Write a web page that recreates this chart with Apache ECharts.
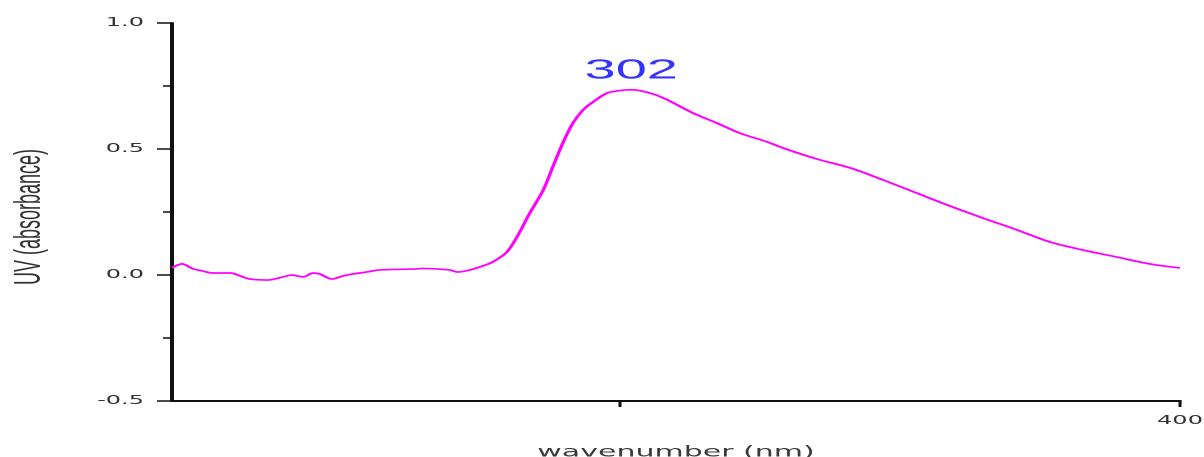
<!DOCTYPE html>
<html>
<head>
<meta charset="utf-8">
<title>UV spectrum</title>
<script src="https://cdn.jsdelivr.net/npm/echarts@6/dist/echarts.min.js"></script>
<style>
  html, body { margin: 0; padding: 0; background: #fff; overflow: hidden; }
  /* the plot is laid out at half width and stretched horizontally */
  #chart { width: 602px; height: 457px; transform: scaleX(2); transform-origin: 0 0; }
</style>
</head>
<body>
<div id="chart"></div>
<script>
// Wavelength (nm) of each sampled point
const wavelengths = [
  220, 221.8, 223.8, 225.5, 227.1, 230.4, 232.7, 233.9, 237.0, 239.8,
  241.4, 243.4, 245.2, 246.4, 248.6, 250.5, 252.3, 254.8, 257.1, 263.8,
  264.5, 269.6, 270.9, 273.2, 275.5, 277.3, 279.8, 281.6, 283.9, 286.3,
  288.0, 289.8, 291.6, 293.4, 295.2, 297.7, 300, 302, 305, 308,
  313.0, 317.3, 321.4, 326.3, 329.1, 335.2, 341.1, 347.0, 353.0, 358.9,
  364.8, 370.9, 376.8, 382.7, 388.8, 394.6, 400
];
// Absorbance at each wavelength
const absorbance = [
  0.028, 0.044, 0.024, 0.016, 0.008, 0.008, -0.008, -0.016, -0.020, -0.008,
  0.000, -0.008, 0.008, 0.004, -0.016, -0.004, 0.004, 0.012, 0.020, 0.024,
  0.026, 0.020, 0.012, 0.020, 0.036, 0.052, 0.091, 0.151, 0.246, 0.337,
  0.429, 0.524, 0.603, 0.655, 0.687, 0.722, 0.732, 0.735, 0.724, 0.700,
  0.643, 0.603, 0.563, 0.528, 0.504, 0.460, 0.425, 0.377, 0.325, 0.274,
  0.226, 0.179, 0.131, 0.099, 0.071, 0.044, 0.028
];
// Absorption maximum (nm)
const peakWavelength = 302;
// Axis ticks
const xTickValues = [300, 400];
const xLabelValues = [400];
const yTickLabels = [-0.5, 0.0, 0.5, 1.0];

const seriesData = wavelengths.map((w, i) => [w, absorbance[i]]);
const peakAbsorbance = absorbance[wavelengths.indexOf(peakWavelength)];

const chart = echarts.init(document.getElementById('chart'), null, { devicePixelRatio: 2 });
chart.setOption({
  animation: false,
  backgroundColor: '#fff',
  grid: { left: 86, right: 12, top: 23, bottom: 56, outerBoundsMode: 'none', containLabel: false },
  xAxis: {
    type: 'value',
    min: 220,
    max: 400,
    name: 'wavenumber (nm)',
    nameLocation: 'middle',
    nameGap: 44,
    nameTextStyle: { fontFamily: 'DejaVu Sans', fontSize: 15, color: '#3a3a3a' },
    axisLine: { show: true, onZero: false, lineStyle: { color: '#111', width: 2 } },
    axisTick: { show: true, customValues: xTickValues, length: 6, lineStyle: { color: '#111', width: 1.5 } },
    axisLabel: {
      customValues: xLabelValues,
      fontFamily: 'DejaVu Sans', fontSize: 12, color: '#333', margin: 14
    },
    splitLine: { show: false }
  },
  yAxis: {
    type: 'value',
    min: yTickLabels[0],
    max: yTickLabels[yTickLabels.length - 1],
    interval: 0.5,
    name: 'UV (absorbance)',
    nameLocation: 'middle',
    nameGap: 62,
    nameTextStyle: { fontFamily: 'Liberation Sans, Arial, sans-serif', fontSize: 18, color: '#333', padding: [0, 10, 0, 0] },
    axisLine: { show: true, onZero: false, lineStyle: { color: '#111', width: 2 } },
    axisTick: { show: true, length: 7.5, lineStyle: { color: '#111', width: 1.5 } },
    minorTick: { show: true, splitNumber: 2, length: 4.5, lineStyle: { color: '#111', width: 1.5 } },
    axisLabel: {
      fontFamily: 'DejaVu Sans', fontSize: 12, color: '#333', margin: 14,
      formatter: v => v.toFixed(1)
    },
    splitLine: { show: false }
  },
  series: [{
    type: 'line',
    data: seriesData,
    showSymbol: false,
    symbol: 'none',
    smooth: 0.3,
    lineStyle: { color: '#ff00ff', width: 1.7 },
    markPoint: {
      symbol: 'circle',
      symbolSize: 0,
      silent: true,
      label: {
        show: true,
        position: 'top',
        distance: 5,
        formatter: p => String(p.data.coord[0]),
        fontFamily: 'Liberation Sans, Arial, sans-serif',
        fontSize: 28,
        color: '#3434ff'
      },
      data: [{ coord: [peakWavelength, peakAbsorbance] }]
    }
  }]
});
</script>
</body>
</html>
